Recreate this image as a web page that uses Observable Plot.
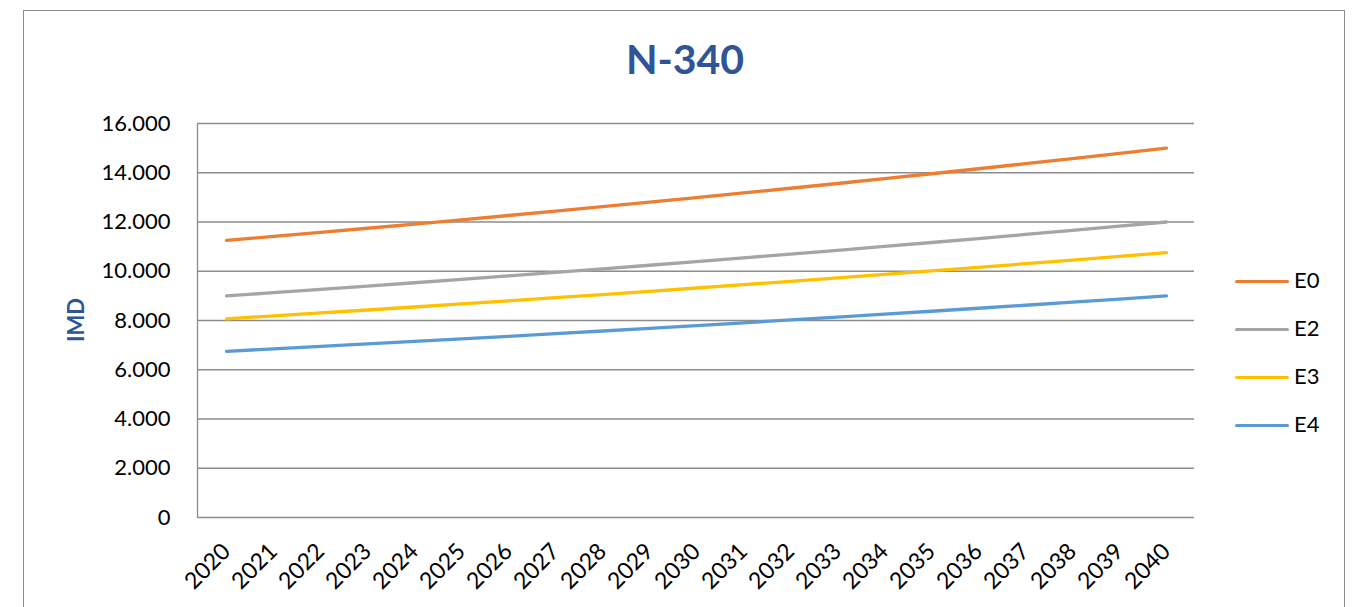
<!DOCTYPE html>
<html>
<head>
<meta charset="utf-8">
<script src="https://cdn.jsdelivr.net/npm/d3@7"></script>
<script src="https://cdn.jsdelivr.net/npm/@observablehq/plot@0.6"></script>
<style>
  html, body { margin: 0; padding: 0; background: #fff; }
  #wrap { position: relative; width: 1357px; height: 607px; overflow: hidden; font-family: Lato, "Noto Sans", sans-serif; }
  #border { position: absolute; left: 23px; top: 10px; width: 1322px; height: 620px; border: 1px solid #8c8c8c; box-sizing: border-box; }
  #title { position: absolute; left: 0; width: 1370px; top: 34px; text-align: center; font-weight: 700; font-size: 41px; color: #2F5597; }
  #ylab { position: absolute; left: 75px; top: 320px; transform: translate(-50%, -50%) rotate(-90deg); font-weight: 700; font-size: 22px; color: #2F5597; white-space: nowrap; }
  #legend { position: absolute; left: 1235px; top: 0; }
  .item { position: absolute; left: 0; height: 0; white-space: nowrap; }
  .sw { position: absolute; left: 0; top: -1.5px; width: 54px; height: 3px; border-radius: 2px; }
  .lt { position: absolute; left: 59px; top: -15px; font-size: 22px; color: #000; line-height: 28px; }
  #plot { position: absolute; left: 0; top: 0; }
</style>
</head>
<body>
<div id="wrap">
  <div id="border"></div>
  <div id="plot"></div>
  <div id="title"></div>
  <div id="ylab"></div>
  <div id="legend"></div>
</div>
<script>
const titleText = "N-340";
const yLabel = "IMD";
const years = [2020, 2021, 2022, 2023, 2024, 2025, 2026, 2027, 2028, 2029, 2030,
               2031, 2032, 2033, 2034, 2035, 2036, 2037, 2038, 2039, 2040];
const seriesNames = ["E0", "E2", "E3", "E4"];
const seriesColors = ["#ED7D31", "#A5A5A5", "#FFC000", "#5B9BD5"];
const E0 = [11250, 11413, 11578, 11746, 11916, 12089, 12264, 12442, 12622, 12805, 12991,
            13179, 13370, 13564, 13760, 13960, 14162, 14367, 14575, 14786, 15000];
const E2 = [9000, 9130, 9263, 9397, 9533, 9671, 9811, 9954, 10098, 10244, 10393,
            10543, 10696, 10851, 11008, 11168, 11329, 11494, 11660, 11829, 12000];
const E3 = [8070, 8187, 8306, 8426, 8548, 8672, 8798, 8925, 9054, 9186, 9319,
            9454, 9591, 9730, 9871, 10014, 10159, 10306, 10455, 10607, 10760];
const E4 = [6750, 6848, 6947, 7048, 7150, 7254, 7359, 7465, 7573, 7683, 7795,
            7907, 8022, 8138, 8256, 8376, 8497, 8620, 8745, 8872, 9000];
const yTicks = [0, 2000, 4000, 6000, 8000, 10000, 12000, 14000, 16000];

const seriesValues = [E0, E2, E3, E4];
const data = [];
seriesNames.forEach((name, i) => {
  years.forEach((yr, j) => data.push({series: name, year: yr, value: seriesValues[i][j]}));
});

const esFormat = d3.formatLocale({decimal: ",", thousands: ".", grouping: [3], currency: ["", "€"]}).format(",");

const gridColor = "#8c8c8c";

const leftLine = (index, scales, values, dimensions) => {
  const g = d3.create("svg:g");
  g.append("line")
    .attr("x1", dimensions.marginLeft + 0.5).attr("x2", dimensions.marginLeft + 0.5)
    .attr("y1", dimensions.marginTop).attr("y2", dimensions.height - dimensions.marginBottom)
    .attr("stroke", gridColor).attr("stroke-width", 1.3);
  return g.node();
};

const chart = Plot.plot({
  width: 1357,
  height: 607,
  marginLeft: 197,
  marginRight: 163,
  marginTop: 123,
  marginBottom: 90,
  style: {fontFamily: "Lato, 'Noto Sans', sans-serif", fontSize: "22px", color: "#000", background: "transparent", overflow: "visible"},
  x: {type: "point", domain: years, padding: 0.5},
  y: {domain: [0, 16000]},
  color: {domain: seriesNames, range: seriesColors},
  marks: [
    Plot.ruleY(yTicks, {y: d => d, stroke: gridColor, strokeWidth: 1.3}),
    leftLine,
    Plot.axisY({ticks: yTicks, tickFormat: esFormat, tickSize: 0, tickPadding: 27, label: null, fontSize: 22}),
    Plot.axisX({tickRotate: -45, tickSize: 0, tickPadding: 24, dy: 6, dx: 0, label: null, fontSize: 23, tickFormat: d => String(d)}),
    Plot.line(data, {x: "year", y: "value", z: "series", stroke: "series", strokeWidth: 3.3, strokeLinecap: "round", strokeLinejoin: "round"})
  ]
});
document.getElementById("plot").appendChild(chart);

document.getElementById("title").textContent = titleText;
document.getElementById("ylab").textContent = yLabel;

const legend = document.getElementById("legend");
const legendY = [281, 329, 377, 425];
seriesNames.forEach((name, i) => {
  const item = document.createElement("div");
  item.className = "item";
  item.style.top = legendY[i] + "px";
  const sw = document.createElement("div");
  sw.className = "sw";
  sw.style.background = seriesColors[i];
  const lt = document.createElement("div");
  lt.className = "lt";
  lt.textContent = name;
  item.appendChild(sw);
  item.appendChild(lt);
  legend.appendChild(item);
});
</script>
</body>
</html>
